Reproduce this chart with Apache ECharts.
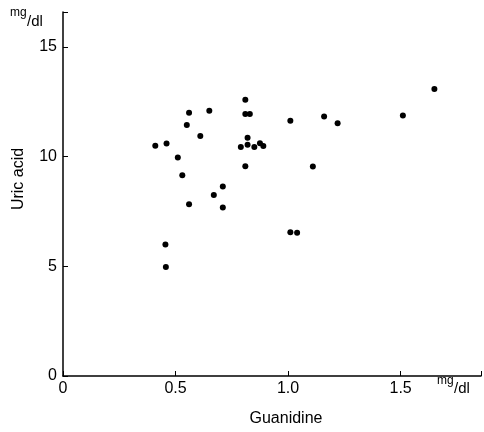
<!DOCTYPE html>
<html>
<head>
<meta charset="utf-8">
<script src="https://cdn.jsdelivr.net/npm/echarts@6/dist/echarts.min.js"></script>
<style>
  html, body { margin: 0; padding: 0; background: #fff; }
  #chart { width: 484px; height: 432px; }
</style>
</head>
<body>
<div id="chart"></div>
<script>
// guanidine (mg/dl) vs uric acid (mg/dl)
const guanidine = [0.41, 0.46, 0.56, 0.55, 0.65, 0.61, 0.51, 0.53, 0.71, 0.67, 0.56, 0.71,
  0.455, 0.457, 0.81, 0.81, 0.83, 0.82, 0.79, 0.82, 0.85, 0.875, 0.89, 0.81,
  1.01, 1.11, 1.01, 1.04, 1.16, 1.22, 1.51, 1.65];
const uricAcid = [10.5, 10.6, 12.0, 11.45, 12.1, 10.95, 9.97, 9.15, 8.64, 8.26, 7.83, 7.68,
  6.0, 4.97, 12.6, 11.95, 11.95, 10.86, 10.44, 10.55, 10.44, 10.62, 10.49, 9.56,
  11.64, 9.55, 6.56, 6.53, 11.83, 11.53, 11.88, 13.09];
const xTicks = [0, 0.5, 1.0, 1.5];
const yTicks = [0, 5, 10, 15];

const points = guanidine.map((g, i) => [g, uricAcid[i]]);
const font = 'Liberation Sans';

const chart = echarts.init(document.getElementById('chart'));
chart.setOption({
  animation: false,
  grid: { left: 63, right: 0, top: 12, bottom: 54 },
  xAxis: {
    type: 'value', min: 0, max: 1.857, interval: 0.5,
    splitLine: { show: false },
    axisLine: { lineStyle: { color: '#000', width: 1.5 } },
    axisTick: { inside: true, length: 5, lineStyle: { color: '#000' } },
    axisLabel: {
      color: '#000', fontFamily: font, fontSize: 16, margin: 5,
      formatter: v => xTicks.indexOf(v) < 0 ? '' : (v === 0 ? '0' : v.toFixed(1))
    },
    name: 'Guanidine', nameLocation: 'middle', nameGap: 35,
    nameTextStyle: { color: '#000', fontFamily: font, fontSize: 16, padding: [0, 0, 0, 28] }
  },
  yAxis: {
    type: 'value', min: 0, max: 16.6, interval: 5,
    splitLine: { show: false },
    axisLine: { lineStyle: { color: '#000', width: 1.5 } },
    axisTick: { inside: true, length: 5, lineStyle: { color: '#000' } },
    axisLabel: {
      color: '#000', fontFamily: font, fontSize: 16, margin: 6,
      formatter: v => yTicks.indexOf(v) < 0 ? '' : String(v)
    },
    name: 'Uric acid', nameLocation: 'middle', nameGap: 36, nameRotate: 90,
    nameTextStyle: { color: '#000', fontFamily: font, fontSize: 16, padding: [0, 0, 0, 30] }
  },
  graphic: [
    { type: 'text', left: 10, top: 7, style: { text: 'mg', font: '12px ' + font, fill: '#000' } },
    { type: 'text', left: 27, top: 14, style: { text: '/dl', font: '15px ' + font, fill: '#000' } },
    { type: 'text', left: 437, top: 375, style: { text: 'mg', font: '12px ' + font, fill: '#000' } },
    { type: 'text', left: 454, top: 381, style: { text: '/dl', font: '15px ' + font, fill: '#000' } }
  ],
  series: [{
    type: 'scatter',
    data: points,
    symbolSize: 6,
    itemStyle: { color: '#000', opacity: 1 }
  }]
});
</script>
</body>
</html>
